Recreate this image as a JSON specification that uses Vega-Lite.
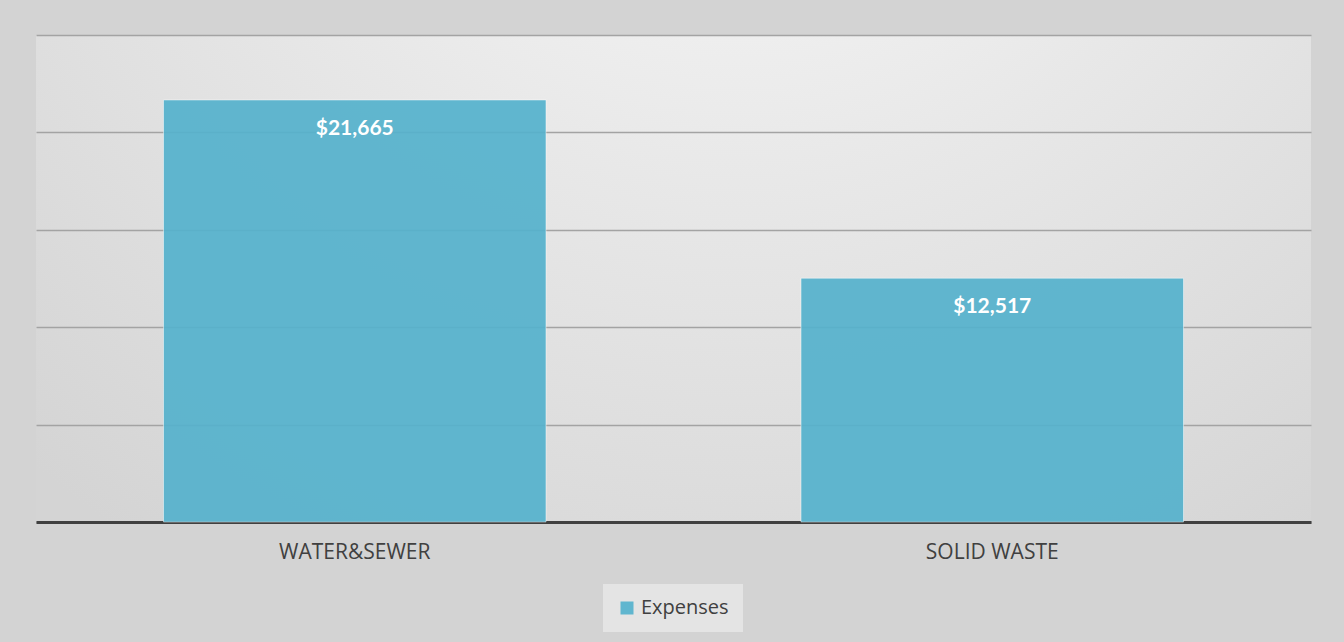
{
  "$schema": "https://vega.github.io/schema/vega-lite/v6.json",
  "width": 1275,
  "height": 487,
  "padding": {"left": 36, "top": 35, "right": 33, "bottom": 13},
  "background": "#d3d3d3",
  "config": {
    "view": {
      "stroke": null,
      "fill": {
        "gradient": "radial",
        "x1": 0.55, "y1": 0.0, "r1": 0.0,
        "x2": 0.55, "y2": 0.0, "r2": 0.85,
        "stops": [
          {"offset": 0, "color": "#fefefe"},
          {"offset": 0.5, "color": "#e8e8e8"},
          {"offset": 1, "color": "#d4d4d4"}
        ]
      }
    }
  },
  "data": {
    "values": [
      {"category": "WATER&SEWER", "value": 21665, "series": "Expenses"},
      {"category": "SOLID WASTE", "value": 12517, "series": "Expenses"}
    ]
  },
  "encoding": {
    "x": {
      "field": "category",
      "type": "nominal",
      "sort": null,
      "scale": {"paddingInner": 0.4, "paddingOuter": 0.2},
      "axis": {
        "title": null,
        "labelAngle": 0,
        "ticks": false,
        "domainColor": "#404040",
        "domainWidth": 3,
        "labelFont": "Open Sans",
        "labelFontSize": 21,
        "labelColor": "#404040",
        "labelPadding": 19,
        "grid": false
      }
    },
    "y": {
      "field": "value",
      "type": "quantitative",
      "scale": {"domain": [0, 25000], "nice": false},
      "axis": {
        "title": null,
        "labels": false,
        "ticks": false,
        "domain": false,
        "grid": true,
        "values": [0, 5000, 10000, 15000, 20000, 25000],
        "gridColor": "#a3a3a3",
        "gridWidth": 1.5
      }
    }
  },
  "layer": [
    {
      "mark": {"type": "bar", "opacity": 0.92, "stroke": "#ffffff", "strokeOpacity": 0.5, "strokeWidth": 1},
      "encoding": {
        "color": {
          "field": "series",
          "type": "nominal",
          "scale": {"range": ["#55b2cd"]},
          "legend": {
            "title": null,
            "orient": "none",
            "legendX": 567,
            "legendY": 549,
            "direction": "horizontal",
            "fillColor": "#e4e4e4",
            "padding": 14,
            "symbolType": "square",
            "symbolSize": 169,
            "symbolStrokeWidth": 0,
            "symbolOpacity": 0.92,
            "labelFont": "Open Sans",
            "labelFontSize": 20,
            "labelColor": "#404040"
          }
        }
      }
    },
    {
      "mark": {"type": "text", "baseline": "middle", "dy": 29, "color": "#ffffff", "font": "Lato", "fontWeight": "bold", "fontSize": 21},
      "encoding": {
        "text": {"field": "value", "type": "quantitative", "format": "$,.0f"}
      }
    }
  ]
}
